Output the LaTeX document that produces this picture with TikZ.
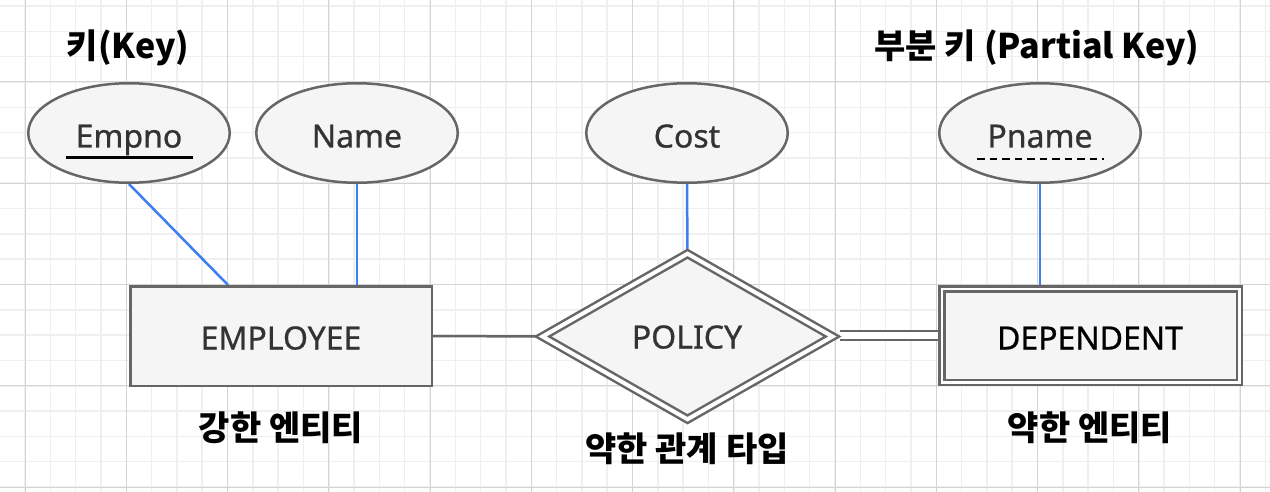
\documentclass[tikz,border=0pt]{standalone}
\usepackage{fontspec}
\setmainfont{Noto Sans}
\newfontfamily\inshapefont[FakeBold=0.8]{Noto Sans}
\newfontfamily\krfont{Noto Sans CJK KR}
\usetikzlibrary{shapes.geometric,calc}
\pgfdeclarelayer{gridlayer}
\pgfdeclarelayer{edgelayer}
\pgfsetlayers{gridlayer,edgelayer,main}
\definecolor{strokegray}{HTML}{666666}
\definecolor{shapefill}{HTML}{F5F5F5}
\definecolor{linkblue}{HTML}{3D7EF2}
\definecolor{gridmajor}{HTML}{D4D4D4}
\definecolor{gridminor}{HTML}{EFEFEF}
\definecolor{intext}{HTML}{333333}
\tikzset{
  attr/.style={ellipse, draw=strokegray, fill=shapefill, line width=2.5pt,
    minimum width=201.5pt, minimum height=99.5pt, inner sep=0pt},
  entbox/.style={rectangle, draw=strokegray, fill=shapefill, line width=2.5pt,
    minimum width=301.5pt, minimum height=99.5pt, inner sep=0pt},
  weakent/.style={rectangle, draw=strokegray, fill=shapefill, line width=2.5pt,
    double=white, double distance=2.5pt,
    minimum width=297.5pt, minimum height=93.5pt, inner sep=0pt},
  weakrel/.style={diamond, draw=strokegray, fill=shapefill, line width=2.5pt,
    double=white, double distance=4pt,
    minimum width=291pt, minimum height=166.6pt, inner sep=0pt},
  intxt/.style={font=\inshapefont\fontsize{32}{38}\selectfont, text=intext, inner sep=0pt,
    text height=23pt, text depth=0pt},
  lbltxt/.style={font=\krfont\bfseries\fontsize{34}{40}\selectfont, text=black, inner sep=0pt,
    text height=25pt, text depth=0pt},
  bluelink/.style={draw=linkblue, line width=2.5pt},
  graylink/.style={draw=strokegray, line width=2.5pt},
  minorline/.style={draw=gridminor, line width=1.5pt},
  majorline/.style={draw=gridmajor, line width=1pt}
}
\begin{document}
\begin{tikzpicture}[x=1pt,y=-1pt]
\useasboundingbox (0,0) rectangle (1270,492);
\begin{pgfonlayer}{gridlayer}
  \fill[white] (0,0) rectangle (1270,492);
  \clip (0,0) rectangle (1270,492);
  \foreach \i in {-1,...,50} {
    \draw[minorline] ({-0.3125+25.3125*\i},0) -- ({-0.3125+25.3125*\i},492);
  }
  \foreach \i in {0,...,20} {
    \draw[minorline] (0,{-19.25+25.3125*\i}) -- (1270,{-19.25+25.3125*\i});
  }
  \foreach \i in {0,...,12} {
    \draw[majorline] ({25+101.25*\i},0) -- ({25+101.25*\i},492);
  }
  \foreach \i in {0,...,5} {
    \draw[majorline] (0,{-19.25+101.25*\i}) -- (1270,{-19.25+101.25*\i});
  }
\end{pgfonlayer}

% shapes
\node[attr] (empno) at (129,133) {};
\node[attr] (name) at (357,133) {};
\node[attr] (cost) at (687,133) {};
\node[attr] (pname) at (1040,133) {};
\node[entbox] (emp) at (281,336) {};
\node[weakrel] (policy) at (687.5,336.5) {};
\node[weakent] (dep) at (1090.5,335.5) {};

% texts inside shapes
\node[intxt] (empnoT) at (129,136) {Empno};
\node[intxt] (nameT) at (357,136) {Name};
\node[intxt] (costT) at (687,136) {Cost};
\node[intxt] (pnameT) at (1040,136) {Pname};
\node[intxt] (empT) at (281,338) {EMPLOYEE};
\node[intxt] (policyT) at (687,337) {POLICY};
\node[intxt, text=black] (depT) at (1090,338) {DEPENDENT};

% key underlines
\draw[black, line width=3pt] ($(empno.center)+(-63.5,25)$) -- ($(empno.center)+(63.5,25)$);
\draw[black, line width=2.5pt, dash pattern=on 7.5pt off 5pt] ($(pname.center)+(-63,26)$) -- ($(pname.center)+(64,26)$);

% outer labels
\node[lbltxt] (keyL) at (128,46) {키(Key)};
\node[lbltxt] (pkeyL) at (1037,46) {부분 키 (Partial Key)};
\node[lbltxt] (strongL) at (281,428) {강한 엔티티};
\node[lbltxt] (relL) at (687,449) {약한 관계 타입};
\node[lbltxt] (weakL) at (1090,428) {약한 엔티티};

% connectors
\begin{pgfonlayer}{edgelayer}
  \draw[bluelink] (empno.south) -- ([xshift=99pt]emp.north west);
  \draw[bluelink] (name.south) -- (name.south |- emp.north);
  \draw[bluelink] (cost.south) -- (policy.north);
  \draw[bluelink] (pname.south) -- (pname.south |- dep.north);
  \draw[graylink] (emp.east) -- (policy.west);
  \draw[graylink, double=white, double distance=6.5pt] ([xshift=6pt]policy.east |- dep.west) -- (dep.west);
\end{pgfonlayer}
\end{tikzpicture}
\end{document}
